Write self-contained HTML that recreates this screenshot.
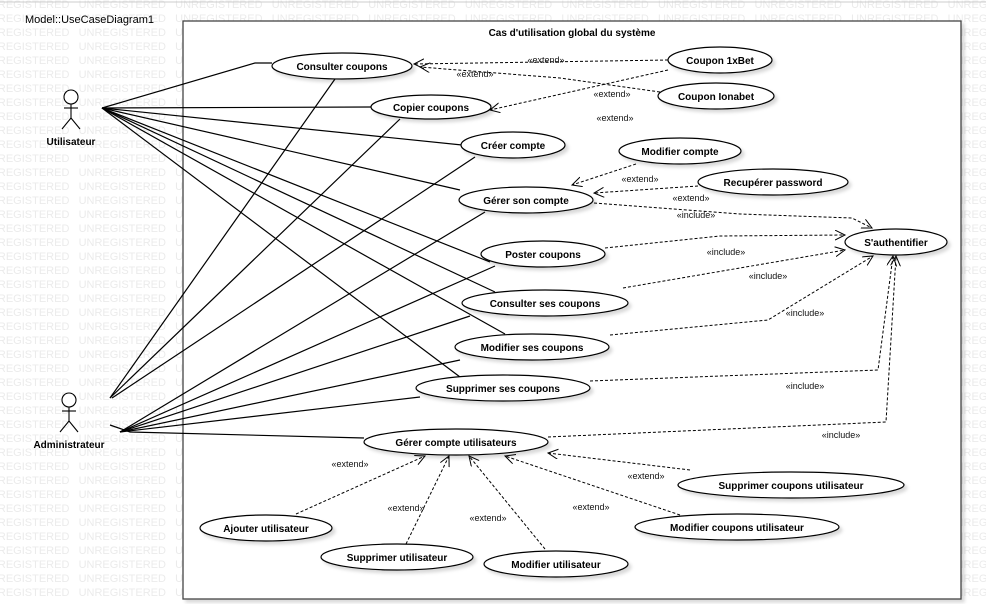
<!DOCTYPE html>
<html><head><meta charset="utf-8"><style>
html,body{margin:0;padding:0;background:#fff}
svg{display:block;font-family:"Liberation Sans",sans-serif}
.t{font-size:10px;font-weight:bold;text-anchor:middle;fill:#000}
.s{font-size:9px;fill:#111;text-anchor:middle}
.wm{font-size:11px;fill:#ebebeb}
</style></head><body>
<svg id="d" width="986" height="604" viewBox="0 0 986 604" xmlns="http://www.w3.org/2000/svg">
<defs>
<marker id="a" markerWidth="12" markerHeight="12" refX="10" refY="5" orient="auto" markerUnits="userSpaceOnUse">
<path d="M0,0 L10,5 L0,10" fill="none" stroke="#000" stroke-width="1"/></marker>
<filter id="sh"><feDropShadow dx="3" dy="3" stdDeviation="1.5" flood-color="#000" flood-opacity="0.15"/></filter>
</defs>
<g id="wm"></g>
<line x1="0" y1="2" x2="986" y2="2" stroke="#ccc"/>
<text x="25" y="23" font-size="11" fill="#000">Model::UseCaseDiagram1</text>
<rect x="183" y="21" width="778" height="578" fill="#fff" stroke="#444" stroke-width="1.3" filter="url(#sh)"/>
<text x="572" y="36" class="t">Cas d'utilisation global du système</text>

<g stroke="#000" stroke-width="1.2" fill="none">
<polyline points="102,108 255,63 272,63"/>
<line x1="102" y1="108" x2="371" y2="107"/>
<line x1="102" y1="108" x2="462" y2="145"/>
<line x1="102" y1="108" x2="460" y2="190"/>
<line x1="102" y1="108" x2="490" y2="262"/>
<line x1="102" y1="108" x2="495" y2="292"/>
<line x1="102" y1="108" x2="505" y2="334"/>
<line x1="102" y1="108" x2="460" y2="377"/>
<line x1="110" y1="398" x2="335" y2="79"/>
<line x1="110" y1="398" x2="400" y2="119"/>
<line x1="112" y1="398" x2="475" y2="157"/>
<line x1="120" y1="432" x2="485" y2="212"/>
<line x1="120" y1="432" x2="495" y2="266"/>
<line x1="120" y1="432" x2="470" y2="316"/>
<line x1="120" y1="432" x2="460" y2="360"/>
<line x1="120" y1="432" x2="420" y2="397"/>
<polyline points="110,425 130,432 364,438"/>
</g>

<g stroke="#000" stroke-width="1" fill="none" stroke-dasharray="3,2">
<line x1="668" y1="60" x2="414" y2="64" marker-end="url(#a)"/>
<polyline points="660,92 560,78 420,67" marker-end="url(#a)"/>
<line x1="668" y1="70" x2="490" y2="110" marker-end="url(#a)"/>
<line x1="636" y1="164" x2="572" y2="185" marker-end="url(#a)"/>
<line x1="698" y1="186" x2="594" y2="193" marker-end="url(#a)"/>
<polyline points="594,203 740,214 852,218 872,228" marker-end="url(#a)"/>
<polyline points="605,248 720,236 845,235" marker-end="url(#a)"/>
<line x1="623" y1="288" x2="845" y2="250" marker-end="url(#a)"/>
<polyline points="610,335 768,320 873,256" marker-end="url(#a)"/>
<polyline points="590,381 878,370 893,256" marker-end="url(#a)"/>
<polyline points="548,437 886,422 896,256" marker-end="url(#a)"/>
<line x1="296" y1="514" x2="425" y2="456" marker-end="url(#a)"/>
<line x1="406" y1="544" x2="449" y2="456" marker-end="url(#a)"/>
<line x1="545" y1="549" x2="469" y2="456" marker-end="url(#a)"/>
<line x1="680" y1="515" x2="505" y2="456" marker-end="url(#a)"/>
<line x1="690" y1="470" x2="548" y2="453" marker-end="url(#a)"/>
</g>

<g class="s">
<text x="546" y="63">«extend»</text>
<text x="475" y="77">«extend»</text>
<text x="612" y="97">«extend»</text>
<text x="615" y="121">«extend»</text>
<text x="640" y="182">«extend»</text>
<text x="691" y="201">«extend»</text>
<text x="696" y="218">«include»</text>
<text x="726" y="255">«include»</text>
<text x="768" y="279">«include»</text>
<text x="805" y="316">«include»</text>
<text x="805" y="389">«include»</text>
<text x="841" y="438">«include»</text>
<text x="350" y="467">«extend»</text>
<text x="406" y="511">«extend»</text>
<text x="488" y="521">«extend»</text>
<text x="591" y="510">«extend»</text>
<text x="646" y="479">«extend»</text>
</g>

<g fill="#fff" stroke="#000" stroke-width="1.2" filter="url(#sh)">
<ellipse cx="342" cy="66" rx="70" ry="13"/>
<ellipse cx="431" cy="107" rx="60" ry="12"/>
<ellipse cx="513" cy="145" rx="52" ry="13"/>
<ellipse cx="680" cy="151" rx="61" ry="13"/>
<ellipse cx="773" cy="182" rx="75" ry="13"/>
<ellipse cx="526" cy="200" rx="67" ry="13"/>
<ellipse cx="720" cy="60" rx="52" ry="13"/>
<ellipse cx="716" cy="96" rx="58" ry="13"/>
<ellipse cx="896" cy="242" rx="51" ry="13"/>
<ellipse cx="543" cy="254" rx="62" ry="13"/>
<ellipse cx="545" cy="303" rx="83" ry="13"/>
<ellipse cx="532" cy="347" rx="77" ry="13"/>
<ellipse cx="503" cy="388" rx="87" ry="13"/>
<ellipse cx="456" cy="442" rx="92" ry="13"/>
<ellipse cx="791" cy="485" rx="113" ry="13"/>
<ellipse cx="737" cy="527" rx="102" ry="13"/>
<ellipse cx="266" cy="528" rx="66" ry="13"/>
<ellipse cx="397" cy="557" rx="76" ry="13"/>
<ellipse cx="556" cy="564" rx="72" ry="13"/>
</g>
<g class="t">
<text x="342" y="70">Consulter coupons</text>
<text x="431" y="111">Copier coupons</text>
<text x="513" y="149">Créer compte</text>
<text x="680" y="155">Modifier compte</text>
<text x="773" y="186">Recupérer password</text>
<text x="526" y="204">Gérer son compte</text>
<text x="720" y="64">Coupon 1xBet</text>
<text x="716" y="100">Coupon Ionabet</text>
<text x="896" y="246">S'authentifier</text>
<text x="543" y="258">Poster coupons</text>
<text x="545" y="307">Consulter ses coupons</text>
<text x="532" y="351">Modifier ses coupons</text>
<text x="503" y="392">Supprimer ses coupons</text>
<text x="456" y="446">Gérer compte utilisateurs</text>
<text x="791" y="489">Supprimer coupons utilisateur</text>
<text x="737" y="531">Modifier coupons utilisateur</text>
<text x="266" y="532">Ajouter utilisateur</text>
<text x="397" y="561">Supprimer utilisateur</text>
<text x="556" y="568">Modifier utilisateur</text>
</g>

<g stroke="#000" stroke-width="1.1" fill="#fff">
<circle cx="71" cy="97" r="7"/>
<line x1="71" y1="104" x2="71" y2="118"/><line x1="64" y1="108" x2="78" y2="108"/>
<polyline points="62,129 71,118 80,129" fill="none"/>
<circle cx="69" cy="400" r="7"/>
<line x1="69" y1="407" x2="69" y2="421"/><line x1="62" y1="411" x2="76" y2="411"/>
<polyline points="60,432 69,421 78,432" fill="none"/>
</g>
<text x="71" y="145" class="t">Utilisateur</text>
<text x="69" y="448" class="t">Administrateur</text>
</svg>
<script>
var g=document.getElementById('wm'),ns='http://www.w3.org/2000/svg';
for(var y=8;y<604;y+=14){var t=document.createElementNS(ns,'text');t.setAttribute('x',-18);t.setAttribute('y',y);t.setAttribute('class','wm');
var s='';for(var i=0;i<13;i++)s+='UNREGISTERED\u00a0\u00a0\u00a0';t.textContent=s;g.appendChild(t);}
</script>
</body></html>
